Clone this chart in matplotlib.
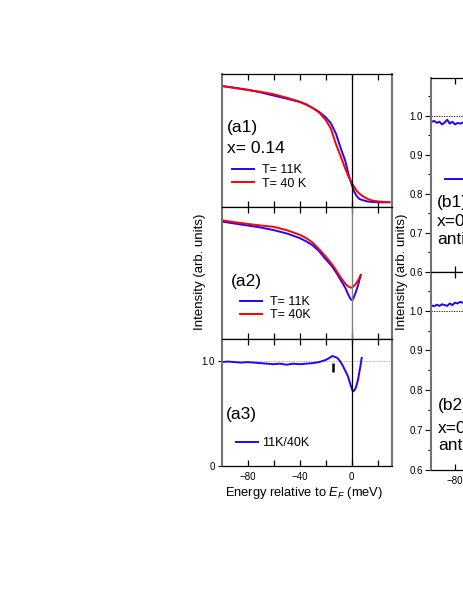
import numpy as np
import matplotlib
matplotlib.use("Agg")
import matplotlib.pyplot as plt
from matplotlib.ticker import MultipleLocator, FixedLocator

plt.rcParams["font.family"] = ["Liberation Sans", "DejaVu Sans"]
plt.rcParams["mathtext.fontset"] = "custom"
plt.rcParams["mathtext.rm"] = "Liberation Sans"
plt.rcParams["mathtext.it"] = "Liberation Sans:italic"

# =========================
# data
# =========================
# (a1) EDCs, x = 0.14
e_a1 = [-100, -90, -80, -70, -60, -50, -40, -35, -30, -25, -20, -16, -12, -8,
        -5, -2, 0, 2, 4, 6, 9, 12, 16, 20, 25, 29]
a1_11k = [0.91, 0.897, 0.882, 0.862, 0.838, 0.815, 0.79, 0.77, 0.745, 0.715,
          0.675, 0.63, 0.55, 0.43, 0.35, 0.23, 0.17, 0.115, 0.08, 0.06, 0.05,
          0.042, 0.038, 0.036, 0.035, 0.035]
a1_40k = [0.91, 0.895, 0.88, 0.866, 0.848, 0.822, 0.792, 0.772, 0.745, 0.71,
          0.655, 0.59, 0.47, 0.37, 0.29, 0.22, 0.185, 0.15, 0.12, 0.10, 0.078,
          0.062, 0.048, 0.042, 0.038, 0.037]

# (a2) EDCs
e_a2 = [-100, -90, -80, -70, -60, -50, -40, -35, -30, -25, -20, -15, -11, -8,
        -5, -3, -1, 0, 1, 3, 5, 7]
a2_11k = [0.89, 0.875, 0.86, 0.845, 0.825, 0.80, 0.765, 0.74, 0.71, 0.665,
          0.605, 0.55, 0.49, 0.44, 0.39, 0.345, 0.305, 0.295, 0.30, 0.35,
          0.41, 0.485]
a2_40k = [0.90, 0.885, 0.872, 0.86, 0.85, 0.825, 0.79, 0.765, 0.73, 0.68,
          0.625, 0.565, 0.505, 0.46, 0.42, 0.40, 0.39, 0.39, 0.395, 0.415,
          0.445, 0.485]

# (a3) ratio 11K/40K
e_a3 = [-100, -95, -90, -85, -80, -75, -70, -65, -60, -55, -50, -45, -40, -35,
        -30, -25, -20, -17, -15, -13, -11, -9, -7, -5, -3, -1, 0, 1, 2, 3, 4,
        5, 6, 7, 7.7]
a3_ratio = [0.99, 0.995, 0.99, 0.985, 0.99, 0.985, 0.98, 0.975, 0.97, 0.975,
            0.965, 0.975, 0.97, 0.975, 0.98, 0.99, 1.01, 1.03, 1.048, 1.04,
            1.03, 1.0, 0.96, 0.91, 0.86, 0.78, 0.74, 0.71, 0.72, 0.74, 0.78,
            0.83, 0.9, 0.97, 1.03]
gap_mark_e = -14
gap_mark_lo, gap_mark_hi = 0.9, 0.98

# (b1), (b2) ratio curves (only left edge visible)
e_b = [-100, -98, -96, -94, -92, -90, -88, -86, -84, -82, -80, -78, -76, -74]
b1_ratio = [0.99, 0.985, 0.987, 0.982, 0.985, 0.978, 0.983, 0.99, 0.98,
            0.985, 0.978, 0.982, 0.98, 0.983]
b2_ratio = [1.01, 1.013, 1.011, 1.015, 1.012, 1.016, 1.014, 1.012, 1.018,
            1.014, 1.02, 1.018, 1.022, 1.02]

BLUE = "#2a00ff"
RED = "#ff0000"

W, H = 463, 599
fig = plt.figure(figsize=(W / 100, H / 100), dpi=100)
fig.patch.set_facecolor("white")


def px_axes(x0, y0, x1, y1):
    return fig.add_axes([x0 / W, 1 - y1 / H, (x1 - x0) / W, (y1 - y0) / H])


def style_spines(ax):
    for s in ("left", "right"):
        ax.spines[s].set_color("0.45")
        ax.spines[s].set_linewidth(1.5)
    for s in ("top", "bottom"):
        ax.spines[s].set_color("black")
        ax.spines[s].set_linewidth(0.9)


def style_xaxis(ax, labels, lim=(-100, 31)):
    ax.set_xlim(*lim)
    ax.xaxis.set_major_locator(FixedLocator([-80, -40, 0]))
    ax.xaxis.set_minor_locator(FixedLocator([-60, -20, 20]))
    ax.tick_params(axis="x", which="both", direction="in", top=True,
                   bottom=True, length=4, width=0.9, labelsize=7, pad=4,
                   labelbottom=labels)


ax1 = px_axes(221.5, 74, 392, 207)
ax2 = px_axes(221.5, 207, 392, 339)
ax3 = px_axes(221.5, 339, 392, 466)

LEG_FS = 9

# --- a1
ax1.plot(e_a1, a1_11k, color=BLUE, lw=1.4, label="T= 11K")
ax1.plot(e_a1, a1_40k, color=RED, lw=1.4, label="T= 40 K")
ax1.axvline(0, color="black", lw=0.9)
ax1.set_ylim(0, 1)
ax1.set_yticks([])
ax1.text(0.031, 0.599, "(a1)", transform=ax1.transAxes, fontsize=12.5,
         va="center", ha="left")
ax1.text(0.031, 0.441, "x= 0.14", transform=ax1.transAxes, fontsize=12.5,
         va="center", ha="left")
ax1.legend(loc="center left", bbox_to_anchor=(0.06, 0.225), frameon=False,
           fontsize=LEG_FS, handlelength=1.8, handletextpad=0.6,
           labelspacing=0.1, borderpad=0, borderaxespad=0)

# --- a2
ax2.plot(e_a2, a2_11k, color=BLUE, lw=1.4, label="T= 11K")
ax2.plot(e_a2, a2_40k, color=RED, lw=1.4, label="T= 40K")
ax2.axvline(0, color="0.5", lw=1.0)
ax2.set_ylim(0, 1)
ax2.set_yticks([])
ax2.text(0.054, 0.434, "(a2)", transform=ax2.transAxes, fontsize=12.5,
         va="center", ha="left")
ax2.legend(loc="center left", bbox_to_anchor=(0.108, 0.23), frameon=False,
           fontsize=LEG_FS, handlelength=1.75, handletextpad=0.65,
           labelspacing=0.05, borderpad=0, borderaxespad=0)
ax2.set_ylabel("Intensity (arb. units)", fontsize=9.5)
ax2.yaxis.set_label_coords(-0.09, 0.51)

# --- a3
ax3.axhline(1.0, color="0.6", lw=0.6, ls=(0, (1, 1)))
ax3.plot(e_a3, a3_ratio, color=BLUE, lw=1.4, label="11K/40K")
ax3.axvline(0, color="black", lw=0.9)
ax3.vlines(gap_mark_e, gap_mark_lo, gap_mark_hi, color="black", lw=1.8)
ax3.set_ylim(0, 1.21)
ax3.set_yticks([0, 1.0])
ax3.set_yticklabels(["0", "1.0"])
ax3.tick_params(axis="y", direction="out", length=3, width=0.8,
                labelsize=7, pad=2)
ax3.text(0.026, 0.402, "(a3)", transform=ax3.transAxes, fontsize=12.5,
         va="center", ha="left")
ax3.legend(loc="center left", bbox_to_anchor=(0.083, 0.179), frameon=False,
           fontsize=LEG_FS, handlelength=1.8, handletextpad=0.3,
           borderpad=0, borderaxespad=0)
ax3.set_xlabel("Energy relative to $E_F$ (meV)", fontsize=9.3)
ax3.xaxis.set_label_coords(0.484, -0.15)

for ax in (ax1, ax2, ax3):
    style_spines(ax)
style_xaxis(ax1, False)
style_xaxis(ax2, False)
style_xaxis(ax3, True)

# --- b panels (cut by the figure edge)
bx1 = px_axes(431, 78, 601, 272)
bx2 = px_axes(431, 272, 601, 470)

for bx, ratio in ((bx1, b1_ratio), (bx2, b2_ratio)):
    bx.axhline(1.0, color="black", lw=0.6, ls=(0, (1.5, 1.5)))
    bx.plot(e_b, ratio, color=BLUE, lw=1.4, label="T= 11K")
    bx.set_ylim(0.6, 1.097)
    bx.yaxis.set_major_locator(MultipleLocator(0.1))
    bx.yaxis.set_minor_locator(MultipleLocator(0.05))
    bx.yaxis.set_major_formatter(matplotlib.ticker.FormatStrFormatter("%.1f"))
    bx.tick_params(axis="y", which="major", direction="out", length=4,
                   width=0.8, labelsize=7, pad=2)
    bx.tick_params(axis="y", which="minor", direction="out", length=2,
                   width=0.8)
    style_spines(bx)

style_xaxis(bx1, False, (-98.5, 32.5))
style_xaxis(bx2, True, (-98.5, 32.5))

B_FS = 12.5
bx1.text(0.035, 0.356, "(b1)", transform=bx1.transAxes, fontsize=B_FS,
         va="center", ha="left")
bx1.text(0.035, 0.258, "x=0.14", transform=bx1.transAxes, fontsize=B_FS,
         va="center", ha="left")
bx1.text(0.035, 0.165, "antinode", transform=bx1.transAxes, fontsize=B_FS,
         va="center", ha="left")
bx1.legend(loc="center left", bbox_to_anchor=(0.082, 0.474), frameon=False,
           fontsize=LEG_FS, handlelength=2.5, borderpad=0, borderaxespad=0)

bx2.text(0.041, 0.328, "(b2)", transform=bx2.transAxes, fontsize=B_FS,
         va="center", ha="left")
bx2.text(0.041, 0.212, "x=0.14", transform=bx2.transAxes, fontsize=B_FS,
         va="center", ha="left")
bx2.text(0.041, 0.126, "antinode", transform=bx2.transAxes, fontsize=B_FS,
         va="center", ha="left")

bx1.set_ylabel("Intensity (arb. units)", fontsize=9.5)
bx1.yaxis.set_label_coords(-0.134, 0.0)

fig.savefig("out.png", dpi=100)
plt.close(fig)
